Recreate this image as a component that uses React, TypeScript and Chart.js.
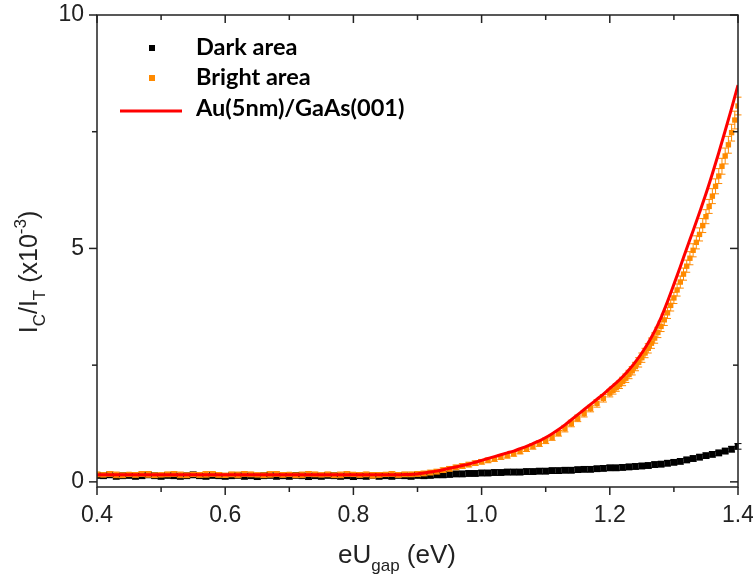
import React, { useEffect, useRef } from "react";
import { Chart, registerables } from "chart.js";

Chart.register(...registerables);

// ---------- axis / tick values ----------
const X_MIN = 0.4;
const X_MAX = 1.4;
const Y_MIN = -0.11;
const Y_MAX = 10;
const X_TICKS = [0.4, 0.6, 0.8, 1.0, 1.2, 1.4];
const X_MINOR = [0.5, 0.7, 0.9, 1.1, 1.3];
const Y_TICKS = [0, 5, 10];
const Y_MINOR = [2.5, 7.5];

// ---------- data ----------
const X_GRID = [
  0.40, 0.41, 0.42, 0.43, 0.44, 0.45, 0.46, 0.47, 0.48, 0.49,
  0.50, 0.51, 0.52, 0.53, 0.54, 0.55, 0.56, 0.57, 0.58, 0.59,
  0.60, 0.61, 0.62, 0.63, 0.64, 0.65, 0.66, 0.67, 0.68, 0.69,
  0.70, 0.71, 0.72, 0.73, 0.74, 0.75, 0.76, 0.77, 0.78, 0.79,
  0.80, 0.81, 0.82, 0.83, 0.84, 0.85, 0.86, 0.87, 0.88, 0.89,
  0.90, 0.91, 0.92, 0.93, 0.94, 0.95, 0.96, 0.97, 0.98, 0.99,
  1.00, 1.01, 1.02, 1.03, 1.04, 1.05, 1.06, 1.07, 1.08, 1.09,
  1.10, 1.11, 1.12, 1.13, 1.14, 1.15, 1.16, 1.17, 1.18, 1.19,
  1.20, 1.21, 1.22, 1.23, 1.24, 1.25, 1.26, 1.27, 1.28, 1.29,
  1.30, 1.31, 1.32, 1.33, 1.34, 1.35, 1.36, 1.37, 1.38, 1.39,
  1.40,
];

// Dark area (black squares), on X_GRID
const DARK_Y = [
  0.14, 0.13, 0.15, 0.12, 0.13, 0.14, 0.12, 0.13, 0.15, 0.13,
  0.12, 0.14, 0.13, 0.12, 0.13, 0.15, 0.13, 0.12, 0.14, 0.13,
  0.12, 0.13, 0.14, 0.12, 0.13, 0.11, 0.13, 0.14, 0.12, 0.13,
  0.12, 0.14, 0.13, 0.11, 0.13, 0.12, 0.14, 0.13, 0.12, 0.13,
  0.11, 0.13, 0.12, 0.14, 0.12, 0.13, 0.12, 0.14, 0.13, 0.12,
  0.14, 0.13, 0.14, 0.15, 0.15, 0.16, 0.17, 0.17, 0.18, 0.18,
  0.19, 0.19, 0.20, 0.20, 0.21, 0.21, 0.21, 0.22, 0.22, 0.23,
  0.23, 0.24, 0.24, 0.25, 0.25, 0.26, 0.27, 0.27, 0.28, 0.29,
  0.30, 0.30, 0.31, 0.32, 0.33, 0.34, 0.35, 0.37, 0.38, 0.40,
  0.42, 0.44, 0.47, 0.50, 0.53, 0.56, 0.59, 0.62, 0.66, 0.70,
  0.76,
];
const DARK_ERR = 0.06;

// Bright area (orange squares with error bars)
const BRIGHT_X_FINE = [
  1.205, 1.21, 1.215, 1.22, 1.225, 1.23, 1.235, 1.24, 1.245, 1.25,
  1.255, 1.26, 1.265, 1.27, 1.275, 1.28, 1.285, 1.29, 1.295, 1.30,
  1.305, 1.31, 1.315, 1.32, 1.325, 1.33, 1.335, 1.34, 1.345, 1.35,
  1.355, 1.36, 1.365, 1.37, 1.375, 1.38, 1.385, 1.39, 1.395, 1.40,
];
const BRIGHT_X = [...X_GRID.slice(0, 81), ...BRIGHT_X_FINE];
const BRIGHT_Y = [
  0.16, 0.15, 0.17, 0.15, 0.14, 0.16, 0.15, 0.17, 0.16, 0.14,
  0.15, 0.16, 0.17, 0.15, 0.14, 0.16, 0.15, 0.16, 0.17, 0.15,
  0.14, 0.16, 0.15, 0.17, 0.16, 0.15, 0.14, 0.16, 0.17, 0.15,
  0.16, 0.14, 0.15, 0.17, 0.16, 0.15, 0.16, 0.14, 0.15, 0.17,
  0.16, 0.15, 0.16, 0.14, 0.15, 0.16, 0.17, 0.15, 0.16, 0.16,
  0.17, 0.18, 0.20, 0.22, 0.25, 0.28, 0.31, 0.34, 0.37, 0.40,
  0.43, 0.46, 0.49, 0.53, 0.56, 0.60, 0.65, 0.70, 0.76, 0.82,
  0.88, 0.95, 1.04, 1.14, 1.25, 1.36, 1.46, 1.57, 1.68, 1.79,
  1.90,
  1.96, 2.02, 2.08, 2.15, 2.22, 2.30, 2.38, 2.47, 2.56, 2.66,
  2.76, 2.86, 2.97, 3.08, 3.20, 3.33, 3.47, 3.62, 3.78, 3.94,
  4.11, 4.28, 4.45, 4.62, 4.79, 4.96, 5.13, 5.30, 5.49, 5.68,
  5.90, 6.12, 6.33, 6.55, 6.76, 6.98, 7.22, 7.48, 7.75, 8.05,
];
const BRIGHT_ERR = [
  0.05, 0.04, 0.05, 0.06, 0.05, 0.04, 0.05, 0.05, 0.06, 0.05,
  0.04, 0.05, 0.05, 0.06, 0.05, 0.04, 0.05, 0.06, 0.05, 0.05,
  0.04, 0.05, 0.06, 0.05, 0.05, 0.04, 0.05, 0.06, 0.05, 0.05,
  0.04, 0.05, 0.06, 0.05, 0.05, 0.04, 0.05, 0.05, 0.06, 0.05,
  0.04, 0.05, 0.05, 0.06, 0.05, 0.04, 0.05, 0.05, 0.05, 0.05,
  0.05, 0.05, 0.05, 0.05, 0.05, 0.05, 0.05, 0.05, 0.05, 0.05,
  0.05, 0.05, 0.05, 0.05, 0.05, 0.05, 0.05, 0.05, 0.06, 0.06,
  0.06, 0.06, 0.06, 0.07, 0.07, 0.07, 0.07, 0.07, 0.08, 0.08,
  0.08,
  0.08, 0.08, 0.08, 0.09, 0.09, 0.09, 0.09, 0.09, 0.10, 0.10,
  0.10, 0.10, 0.11, 0.11, 0.11, 0.11, 0.12, 0.12, 0.12, 0.12,
  0.13, 0.13, 0.13, 0.13, 0.14, 0.14, 0.14, 0.14, 0.15, 0.15,
  0.15, 0.16, 0.16, 0.16, 0.17, 0.17, 0.18, 0.18, 0.19, 0.19,
];

// Au(5nm)/GaAs(001) (red line), on X_GRID
const AU_Y = [
  0.15, 0.15, 0.15, 0.15, 0.15, 0.15, 0.15, 0.15, 0.15, 0.15,
  0.15, 0.15, 0.15, 0.15, 0.15, 0.15, 0.15, 0.15, 0.15, 0.15,
  0.15, 0.15, 0.15, 0.15, 0.15, 0.15, 0.15, 0.15, 0.15, 0.15,
  0.15, 0.15, 0.15, 0.15, 0.15, 0.15, 0.15, 0.15, 0.15, 0.15,
  0.15, 0.15, 0.15, 0.15, 0.15, 0.15, 0.15, 0.15, 0.16, 0.16,
  0.17, 0.19, 0.21, 0.23, 0.26, 0.29, 0.32, 0.35, 0.38, 0.42,
  0.46, 0.50, 0.54, 0.58, 0.62, 0.66, 0.71, 0.76, 0.82, 0.88,
  0.95, 1.03, 1.12, 1.22, 1.33, 1.44, 1.55, 1.66, 1.77, 1.88,
  2.00, 2.12, 2.25, 2.40, 2.57, 2.76, 2.98, 3.23, 3.52, 3.86,
  4.23, 4.61, 5.00, 5.38, 5.77, 6.17, 6.60, 7.05, 7.52, 8.00,
  8.50,
];

const LEGEND_LABELS = ["Dark area", "Bright area", "Au(5nm)/GaAs(001)"];
const X_TITLE = [
  { t: "eU", k: "n" },
  { t: "gap", k: "sub" },
  { t: " (eV)", k: "n" },
];
const Y_TITLE = [
  { t: "I", k: "n" },
  { t: "C", k: "sub" },
  { t: "/I", k: "n" },
  { t: "T", k: "sub" },
  { t: " (x10", k: "n" },
  { t: "-3", k: "sup" },
  { t: ")", k: "n" },
];

// ---------- styles ----------
const ORANGE = "#ff8a00";
const RED = "#ff0000";
const AXIS = "#222222";
const SANS = '"Liberation Sans", Arial, sans-serif';
const BOLD = '"Lato", "Open Sans", sans-serif';

function drawRich(ctx: CanvasRenderingContext2D, segs: any[], cx: number, baseline: number, size: number) {
  const fontFor = (k: string) => `${k === "n" ? size : Math.round(size * 0.66)}px ${SANS}`;
  let total = 0;
  for (const s of segs) {
    ctx.font = fontFor(s.k);
    total += ctx.measureText(s.t).width;
  }
  let x = cx - total / 2;
  ctx.textAlign = "left";
  ctx.textBaseline = "alphabetic";
  for (const s of segs) {
    ctx.font = fontFor(s.k);
    const dy = s.k === "sub" ? size * 0.3 : s.k === "sup" ? -size * 0.45 : 0;
    ctx.fillText(s.t, x, baseline + dy);
    x += ctx.measureText(s.t).width;
  }
}

const customPlugin = {
  id: "customFigure",
  beforeDatasetDraw(chart: any, args: any) {
    const ds = chart.data.datasets[args.index];
    if (!ds.errors && ds.errConst === undefined) return;
    const ctx = chart.ctx;
    const ys = chart.scales.y;
    const area = chart.chartArea;
    ctx.save();
    ctx.beginPath();
    ctx.rect(area.left, area.top - 5, area.right - area.left + 5, area.bottom - area.top + 5);
    ctx.clip();
    ctx.strokeStyle = ds.errColor;
    ctx.lineWidth = 1;
    args.meta.data.forEach((el: any, i: number) => {
      const v = ds.data[i].y;
      const e = ds.errors ? ds.errors[i] : ds.errConst;
      const y1 = ys.getPixelForValue(v + e);
      const y2 = ys.getPixelForValue(v - e);
      const x = el.x;
      ctx.beginPath();
      ctx.moveTo(x, y1);
      ctx.lineTo(x, y2);
      ctx.moveTo(x - 3.5, y1);
      ctx.lineTo(x + 3.5, y1);
      ctx.moveTo(x - 3.5, y2);
      ctx.lineTo(x + 3.5, y2);
      ctx.stroke();
    });
    ctx.restore();
  },
  afterDraw(chart: any) {
    const ctx: CanvasRenderingContext2D = chart.ctx;
    const { left, right, top, bottom } = chart.chartArea;
    const xs = chart.scales.x;
    const ys = chart.scales.y;
    ctx.save();
    // frame
    ctx.strokeStyle = AXIS;
    ctx.lineWidth = 1.5;
    ctx.strokeRect(left, top, right - left, bottom - top);
    // ticks
    const tick = (x1: number, y1: number, x2: number, y2: number) => {
      ctx.beginPath();
      ctx.moveTo(x1, y1);
      ctx.lineTo(x2, y2);
      ctx.stroke();
    };
    const MAJ = 8;
    const MIN = 5;
    X_TICKS.forEach((v) => {
      const p = xs.getPixelForValue(v);
      tick(p, bottom, p, bottom + MAJ);
      tick(p, top, p, top + MAJ);
    });
    X_MINOR.forEach((v) => {
      const p = xs.getPixelForValue(v);
      tick(p, bottom, p, bottom + MIN);
      tick(p, top, p, top + MIN);
    });
    Y_TICKS.forEach((v) => {
      const p = ys.getPixelForValue(v);
      tick(left - MAJ, p, left, p);
      tick(right - MAJ, p, right, p);
    });
    Y_MINOR.forEach((v) => {
      const p = ys.getPixelForValue(v);
      tick(left - MIN, p, left, p);
      tick(right - MIN, p, right, p);
    });
    // tick labels
    ctx.fillStyle = AXIS;
    ctx.font = `23px ${SANS}`;
    ctx.textAlign = "center";
    ctx.textBaseline = "middle";
    X_TICKS.forEach((v) => {
      ctx.fillText(v.toFixed(1), xs.getPixelForValue(v), bottom + 29);
    });
    ctx.textAlign = "right";
    Y_TICKS.forEach((v) => {
      ctx.fillText(String(v), left - 13, ys.getPixelForValue(v));
    });
    // axis titles
    drawRich(ctx, X_TITLE, 397, 563, 26);
    ctx.save();
    ctx.translate(37, 272);
    ctx.rotate(-Math.PI / 2);
    drawRich(ctx, Y_TITLE, 0, 0, 25);
    ctx.restore();
    // legend
    ctx.fillStyle = "#000";
    ctx.fillRect(149, 45, 6, 6);
    ctx.fillStyle = ORANGE;
    ctx.fillRect(149, 75, 6, 6);
    ctx.strokeStyle = RED;
    ctx.lineWidth = 3;
    tick(120, 111, 182, 111);
    ctx.fillStyle = "#000";
    ctx.font = `bold 23.5px ${BOLD}`;
    ctx.textAlign = "left";
    ctx.textBaseline = "middle";
    ctx.fillText(LEGEND_LABELS[0], 196, 47);
    ctx.fillText(LEGEND_LABELS[1], 196, 77);
    ctx.fillText(LEGEND_LABELS[2], 196, 108);
    ctx.restore();
  },
};

export default function App() {
  const ref = useRef<HTMLCanvasElement | null>(null);
  useEffect(() => {
    document.body.style.margin = "0";
    const canvas = ref.current;
    if (!canvas) return;
    const chart = new Chart(canvas, {
      type: "scatter",
      data: {
        datasets: [
          {
            label: LEGEND_LABELS[2],
            data: X_GRID.map((x, i) => ({ x, y: AU_Y[i] })),
            showLine: true,
            borderColor: RED,
            backgroundColor: RED,
            borderWidth: 3,
            pointRadius: 0,
            cubicInterpolationMode: "monotone",
          } as any,
          {
            label: LEGEND_LABELS[1],
            data: BRIGHT_X.map((x, i) => ({ x, y: BRIGHT_Y[i] })),
            errors: BRIGHT_ERR,
            errColor: ORANGE,
            showLine: false,
            pointStyle: "rect",
            pointRadius: 3.8,
            pointBorderWidth: 0,
            backgroundColor: ORANGE,
            borderColor: ORANGE,
          } as any,
          {
            label: LEGEND_LABELS[0],
            data: X_GRID.map((x, i) => ({ x, y: DARK_Y[i] })),
            errConst: DARK_ERR,
            errColor: "#000",
            showLine: false,
            pointStyle: "rect",
            pointRadius: 4.6,
            pointBorderWidth: 0,
            backgroundColor: "#000",
            borderColor: "#000",
          } as any,
        ],
      },
      options: {
        responsive: false,
        animation: false,
        events: [],
        layout: { padding: { left: 0, top: 15, right: 15, bottom: 0 } },
        plugins: { legend: { display: false }, tooltip: { enabled: false }, title: { display: false } },
        scales: {
          x: {
            type: "linear",
            min: X_MIN,
            max: X_MAX,
            grid: { display: false },
            border: { display: false },
            ticks: { display: false },
            afterFit: (s: any) => {
              s.height = 92;
              s.paddingLeft = 0;
              s.paddingRight = 0;
            },
          },
          y: {
            type: "linear",
            min: Y_MIN,
            max: Y_MAX,
            grid: { display: false },
            border: { display: false },
            ticks: { display: false },
            afterFit: (s: any) => {
              s.width = 97;
              s.paddingTop = 0;
              s.paddingBottom = 0;
            },
          },
        },
      },
      plugins: [customPlugin],
    });
    return () => chart.destroy();
  }, []);
  return (
    <div style={{ position: "absolute", left: 0, top: 0, width: 753, height: 579, background: "#fff" }}>
      <canvas ref={ref} width={753} height={579} />
    </div>
  );
}
